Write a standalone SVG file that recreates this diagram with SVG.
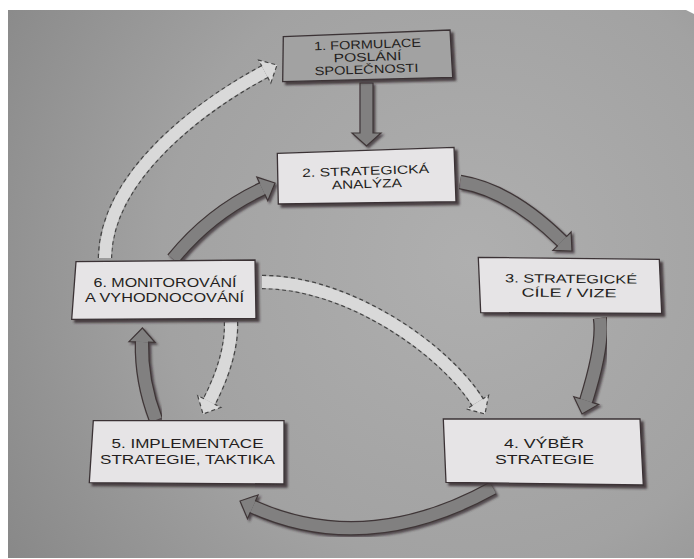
<svg xmlns="http://www.w3.org/2000/svg" width="694" height="559" viewBox="0 0 694 559">
  <defs>
    <radialGradient id="page" cx="470" cy="260" r="560" gradientUnits="userSpaceOnUse">
      <stop offset="0" stop-color="#afafaf"/>
      <stop offset="0.55" stop-color="#a2a2a2"/>
      <stop offset="1" stop-color="#878787"/>
    </radialGradient>
    <filter id="boxShadow" x="-10%" y="-20%" width="125%" height="150%">
      <feDropShadow dx="3" dy="3" stdDeviation="0.9" flood-color="#3a2d30" flood-opacity="0.85"/>
    </filter>
    <filter id="arrowShadow" x="-20%" y="-20%" width="140%" height="140%">
      <feDropShadow dx="2" dy="2" stdDeviation="0.8" flood-color="#2e2426" flood-opacity="0.7"/>
    </filter>
    <style>
      .box { fill: #e6e4e6; stroke: #3b3336; stroke-width: 1.3; stroke-linejoin: miter; }
      .box.grey { fill: #a2a2a2; }
      .lbl { font-family: "Liberation Sans", Arial, sans-serif; font-size: 12px; fill: #241e20; text-anchor: middle; }
      .shaft-o { fill: none; stroke: #3f3637; stroke-width: 14.5; stroke-linecap: butt; }
      .shaft-f { fill: none; stroke: #818080; stroke-width: 12; stroke-linecap: butt; }
      .head { fill: #818080; stroke: #3f3637; stroke-width: 1.2; stroke-linejoin: miter; }
      .dash-o { fill: none; stroke: #454545; stroke-width: 14.5; stroke-dasharray: 4 3; stroke-linecap: butt; }
      .dash-f { fill: none; stroke: #d9d9d9; stroke-width: 12; stroke-linecap: butt; }
      .dhead { fill: #d9d9d9; stroke: #454545; stroke-width: 1.2; stroke-dasharray: 4 3; }
    </style>
  </defs>

  <!-- paper sheet on white surround -->
  <rect x="0" y="0" width="694" height="559" fill="#ffffff"/>
  <path d="M8,10 L686,10 L694,14 L694,558 L8,558 Z" fill="url(#page)"/>

  <!-- connectors -->
  <g id="connectors">
    <!-- 1 -> 2 straight block arrow -->
    <g filter="url(#arrowShadow)">
      <path class="head" d="M360,83 L373,83 L373,133 L381,133 L366.5,146 L352,133 L360,133 Z"/>
    </g>
    <!-- 2 -> 3 -->
    <g filter="url(#arrowShadow)">
      <path class="shaft-o" d="M460,182 Q510,190 562,241.2"/>
      <path class="shaft-f" d="M460,182 Q510,190 562,241.2"/>
      <path class="head" d="M557.8,245.5 L552.9,250.4 L572,251 L571.1,232 L566.2,236.9"/>
    </g>
    <!-- 3 -> 4 -->
    <g filter="url(#arrowShadow)">
      <path class="shaft-o" d="M600,318 Q603.9,344.2 586.2,400.6"/>
      <path class="shaft-f" d="M600,318 Q603.9,344.2 586.2,400.6"/>
      <path class="head" d="M580.5,398.8 L573.8,396.7 L582,414 L598.6,404.5 L591.9,402.4"/>
    </g>
    <!-- 4 -> 5 -->
    <g filter="url(#arrowShadow)">
      <path class="shaft-o" d="M493,488 Q366.6,557.75 252.8,506.8"/>
      <path class="shaft-f" d="M493,488 Q366.6,557.75 252.8,506.8"/>
      <path class="head" d="M255.3,501.3 L258.1,494.9 L240,501 L247.5,518.7 L250.3,512.3"/>
    </g>
    <!-- 5 -> 6 -->
    <g filter="url(#arrowShadow)">
      <path class="shaft-o" d="M156,420 Q141,381 142,342"/>
      <path class="shaft-f" d="M156,420 Q141,381 142,342"/>
      <path class="head" d="M148,342.2 L155,342.4 L142.4,328 L129,341.6 L136,341.8"/>
    </g>
    <!-- 6 -> 2 -->
    <g filter="url(#arrowShadow)">
      <path class="shaft-o" d="M173,259 Q210.2,213.2 262.3,188.9"/>
      <path class="shaft-f" d="M173,259 Q210.2,213.2 262.3,188.9"/>
      <path class="head" d="M264.8,194.3 L267.8,200.7 L275,183 L256.8,177.1 L259.8,183.5"/>
    </g>
    <!-- feedback 6 -> 1 (dashed) -->
    <g>
      <path class="dash-o" d="M105,258 C106,175 203,104.6 264.7,71.6"/>
      <path class="dash-f" d="M105,258 C106,175 203,104.6 264.7,71.6"/>
      <path class="dhead" d="M267.5,76.9 L270.8,83.1 L277,65 L258.6,60.1 L261.9,66.3"/>
    </g>
    <!-- feedback 6 -> 4 (dashed) -->
    <g>
      <path class="dash-o" d="M262,282 C350,282 445.8,351.2 477.6,402.1"/>
      <path class="dash-f" d="M262,282 C350,282 445.8,351.2 477.6,402.1"/>
      <path class="dhead" d="M472.5,405.3 L466.6,409 L485,414 L488.6,395.2 L482.7,398.9"/>
    </g>
    <!-- feedback 6 -> 5 (dashed) -->
    <g>
      <path class="dash-o" d="M231,322 C232,350 220.6,379.3 209.3,401.5"/>
      <path class="dash-f" d="M231,322 C232,350 220.6,379.3 209.3,401.5"/>
      <path class="dhead" d="M204,398.8 L197.7,395.7 L203,414 L220.9,407.4 L214.6,404.2"/>
    </g>
  </g>

  <!-- nodes -->
  <g id="node-1">
    <polygon class="box grey" filter="url(#boxShadow)" points="283.3,36.7 450,30 452.7,77.3 282.7,81.7"/>
    <g transform="rotate(-2 368 56)">
      <text class="lbl" x="368" y="48.5" textLength="107" lengthAdjust="spacingAndGlyphs">1. FORMULACE</text>
      <text class="lbl" x="367.5" y="61" textLength="68" lengthAdjust="spacingAndGlyphs">POSLÁNÍ</text>
      <text class="lbl" x="366" y="73.5" textLength="104" lengthAdjust="spacingAndGlyphs">SPOLEČNOSTI</text>
    </g>
  </g>

  <g id="node-2">
    <polygon class="box" filter="url(#boxShadow)" points="277.3,153.3 454,147.3 456,201.7 278.3,204"/>
    <g transform="rotate(-1.9 366 180)">
      <text class="lbl" x="366" y="175" textLength="127" lengthAdjust="spacingAndGlyphs">2. STRATEGICKÁ</text>
      <text class="lbl" x="366.7" y="188" textLength="70" lengthAdjust="spacingAndGlyphs">ANALÝZA</text>
    </g>
  </g>

  <g id="node-3">
    <polygon class="box" filter="url(#boxShadow)" points="478.3,257.3 659.3,259.3 661.7,313.3 480.7,312.7"/>
    <g transform="rotate(0.6 570 290)">
      <text class="lbl" x="571" y="283" textLength="132" lengthAdjust="spacingAndGlyphs">3. STRATEGICKÉ</text>
      <text class="lbl" x="569" y="297" textLength="95" lengthAdjust="spacingAndGlyphs">CÍLE / VIZE</text>
    </g>
  </g>

  <g id="node-4">
    <polygon class="box" filter="url(#boxShadow)" points="443.3,419 640,419 643.3,485 446,482.3"/>
    <text class="lbl" x="544" y="448.3" textLength="80" lengthAdjust="spacingAndGlyphs">4. VÝBĚR</text>
    <text class="lbl" x="544.5" y="464.3" textLength="99" lengthAdjust="spacingAndGlyphs">STRATEGIE</text>
  </g>

  <g id="node-5">
    <polygon class="box" filter="url(#boxShadow)" points="93.3,420.7 284,420.7 284,484 89.3,482.7"/>
    <text class="lbl" x="187.5" y="448" textLength="152" lengthAdjust="spacingAndGlyphs">5. IMPLEMENTACE</text>
    <text class="lbl" x="187.5" y="463.5" textLength="175" lengthAdjust="spacingAndGlyphs">STRATEGIE, TAKTIKA</text>
  </g>

  <g id="node-6">
    <polygon class="box" filter="url(#boxShadow)" points="76,261.7 255,260 256,318.3 71.7,319.3"/>
    <text class="lbl" x="165" y="287" textLength="143" lengthAdjust="spacingAndGlyphs">6. MONITOROVÁNÍ</text>
    <text class="lbl" x="164.5" y="302" textLength="159" lengthAdjust="spacingAndGlyphs">A VYHODNOCOVÁNÍ</text>
  </g>
</svg>
